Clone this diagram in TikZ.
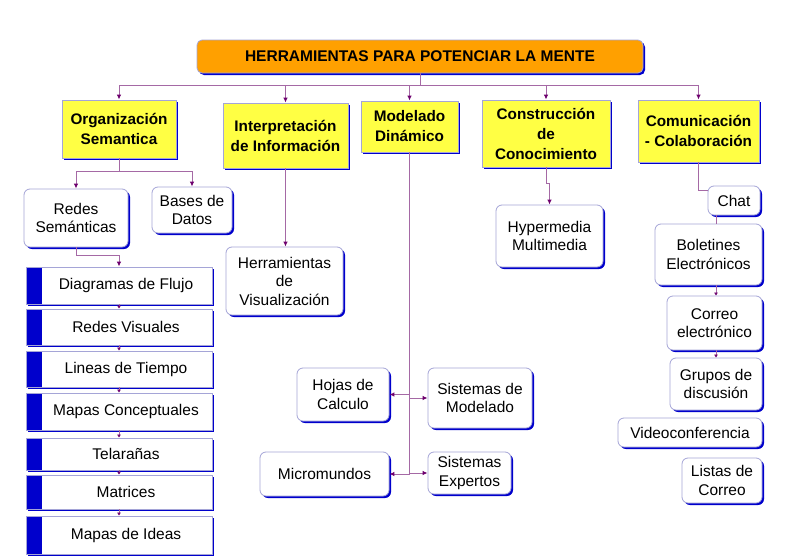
\documentclass[tikz,border=0pt]{standalone}
\usepackage{fontspec}
\setmainfont{Liberation Sans}
\usetikzlibrary{shadows,arrows.meta,calc}
\definecolor{orng}{RGB}{255,160,0}
\definecolor{yel}{RGB}{255,255,68}
\definecolor{shblue}{RGB}{0,0,204}
\definecolor{bord}{RGB}{165,165,215}
\definecolor{lnc}{RGB}{165,105,165}
\definecolor{arc}{RGB}{110,0,110}
\tikzset{
 shd/.style={general shadow={shadow xshift=2pt, shadow yshift=-2pt, fill=shblue}},
 base/.style={draw=bord, line width=0.8pt, shd, inner sep=2pt, align=center, font=\fontsize{15.5}{18.5}\selectfont},
 titlebox/.style={base, fill=orng, rounded corners=5pt, font=\bfseries\fontsize{15.5}{18}\selectfont},
 catbox/.style={base, fill=yel, font=\bfseries\fontsize{15.3}{20}\selectfont},
 leafbox/.style={base, fill=white, rounded corners=6pt},
 listbox/.style={base, fill=white, path picture={\fill[shblue] (path picture bounding box.south west) rectangle ([xshift=16pt]path picture bounding box.north west);}},
 ln/.style={draw=lnc, line width=1pt},
 arr/.style={ln, -{Latex[length=5pt,width=4.5pt,color=arc]}},
 sarr/.style={ln, -{Latex[length=3pt,width=4pt,color=arc]}},
}
\newcommand\bx[7]{\node[#2, minimum width={#5pt-#3pt}, minimum height={#6pt-#4pt}] (#1) at ({(#3+#5)/2},{(#4+#6)/2}) {#7};}
\begin{document}
\begin{tikzpicture}[x=1pt,y=-1pt]
\fill[white] (0,0) rectangle (812,557);
\useasboundingbox (0,0) rectangle (812,557);
% boxes
\bx{main}{titlebox}{197}{40}{643}{73}{HERRAMIENTAS PARA POTENCIAR LA MENTE}
\bx{os}{catbox}{62}{100}{176}{158}{Organización\\Semantica}
\bx{ii}{catbox}{223}{103}{348}{168}{Interpretación\\de Información}
\bx{md}{catbox}{361}{101}{458}{152}{Modelado\\Dinámico}
\bx{cc}{catbox}{482}{100}{610}{167}{Construcción\\de\\Conocimiento}
\bx{cm}{catbox}{638}{100}{759}{162}{Comunicación\\- Colaboración}
\bx{rs}{leafbox}{24}{189}{128}{247}{Redes\\Semánticas}
\bx{bd}{leafbox}{152}{187}{232}{233}{Bases de\\Datos}
\bx{hv}{leafbox}{226}{247}{343}{315}{Herramientas\\de\\Visualización}
\bx{hm}{leafbox}{496}{205}{603}{267}{Hypermedia\\Multimedia}
\bx{chat}{leafbox}{708}{186}{760}{215}{Chat}
\bx{bol}{leafbox}{655}{224}{762}{285}{Boletines\\Electrónicos}
\bx{ce}{leafbox}{667}{296}{762}{350}{Correo\\electrónico}
\bx{gd}{leafbox}{670}{358}{762}{410}{Grupos de\\discusión}
\bx{vc}{leafbox}{618}{418}{762}{447}{Videoconferencia}
\bx{lc}{leafbox}{682}{458}{762}{503}{Listas de\\Correo}
\bx{hc}{leafbox}{297}{368}{389}{421}{Hojas de\\Calculo}
\bx{sm}{leafbox}{428}{368}{532}{428}{Sistemas de\\Modelado}
\bx{mm}{leafbox}{260}{452}{389}{496}{Micromundos}
\bx{se}{leafbox}{428}{452}{511}{494}{Sistemas\\Expertos}
\bx{l1}{listbox}{26}{267}{212}{304}{\hspace*{14pt}Diagramas de Flujo}
\bx{l2}{listbox}{26}{309}{212}{345}{\hspace*{14pt}Redes Visuales}
\bx{l3}{listbox}{26}{351}{212}{387}{\hspace*{14pt}Lineas de Tiempo}
\bx{l4}{listbox}{26}{393}{212}{430}{\hspace*{14pt}Mapas Conceptuales}
\bx{l5}{listbox}{26}{438}{212}{470}{\hspace*{14pt}Telarañas}
\bx{l6}{listbox}{26}{475}{212}{509}{\hspace*{14pt}Matrices}
\bx{l7}{listbox}{26}{516}{212}{554}{\hspace*{14pt}Mapas de Ideas}
% top bus
\coordinate (bus) at (420,85);
\draw[ln] (main.south) -- (bus);
\draw[ln] (bus -| os.north) -- (bus -| cm.north);
\foreach \n in {os,ii,md,cc,cm} \draw[arr] (bus -| \n.north) -- (\n.north);
% organizacion
\coordinate (oj) at (119,171);
\draw[ln] (os.south) -- (os.south |- oj);
\draw[ln] (rs.north |- oj) -- (bd.north |- oj);
\draw[arr] (rs.north |- oj) -- (rs.north);
\draw[arr] (bd.north |- oj) -- (bd.north);
\draw[arr] (rs.south) -- ++(0,8) -| (l1.north);
\draw[sarr] (l1.south) -- (l2.north);
\draw[sarr] (l2.south) -- (l3.north);
\draw[sarr] (l3.south) -- (l4.north);
\draw[sarr] (l4.south) -- (l5.north);
\draw[sarr] (l5.south) -- (l6.north);
\draw[sarr] (l6.south) -- (l7.north);
% interpretacion
\draw[arr] (ii.south) -- (ii.south |- hv.north);
% construccion
\draw[arr] (cc.south) -- ++(0,16) -| (hm.north);
% comunicacion
\coordinate (cx) at (716,0);
\draw[ln] (cm.south) |- ([yshift=-5pt]chat.north west);
\draw[ln] (cx |- chat.south) -- (cx |- bol.north);
\draw[sarr] (cx |- bol.south) -- (cx |- ce.north);
\draw[sarr] (cx |- ce.south) -- (cx |- gd.north);
% modelado
\draw[ln] (md.south) -- ([yshift=-1pt]md.south |- mm.east);
\draw[arr] (md.south |- hc.east) -- (hc.east);
\draw[arr] (md.south |- sm.west) -- (sm.west);
\draw[arr] (md.south |- mm.east) -- (mm.east);
\draw[arr] (md.south |- se.west) -- (se.west);
\end{tikzpicture}
\end{document}
